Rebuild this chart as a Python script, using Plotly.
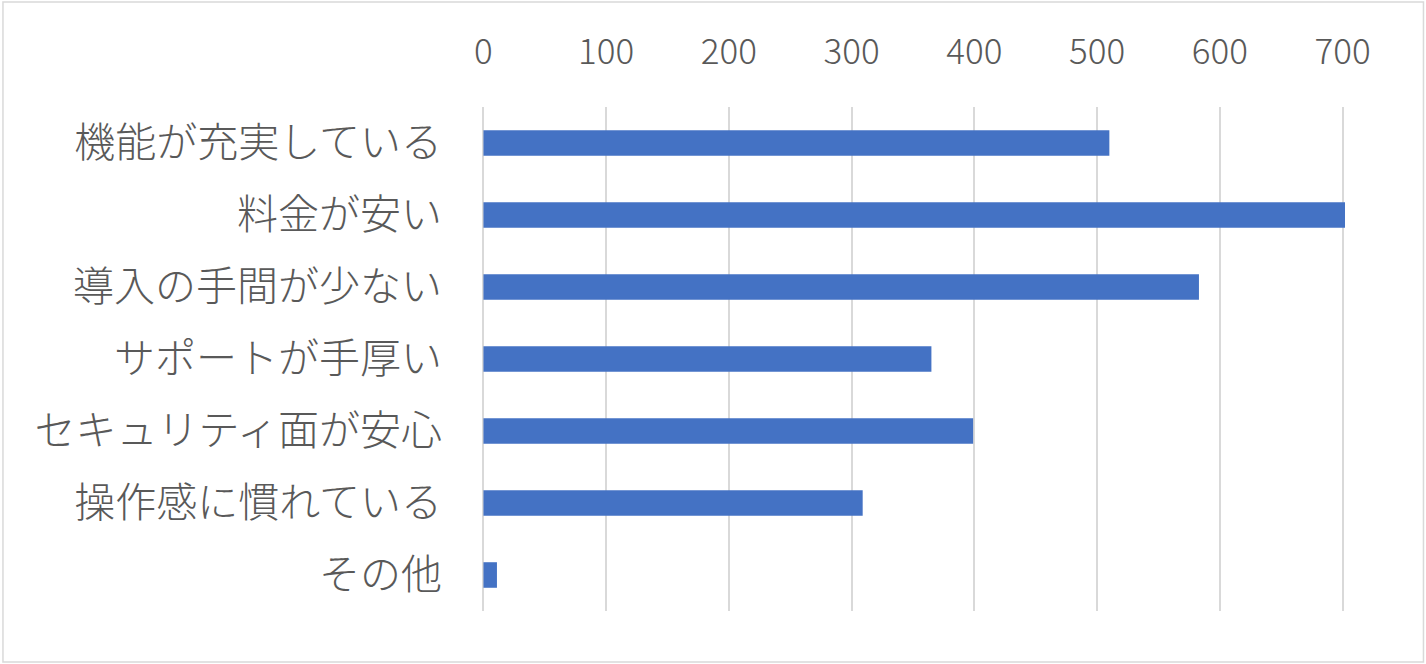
import plotly.graph_objects as go

# data
categories = ["機能が充実している", "料金が安い", "導入の手間が少ない", "サポートが手厚い",
              "セキュリティ面が安心", "操作感に慣れている", "その他"]
counts = [510, 703, 583, 365, 399, 309, 11]
tick_vals = [0, 100, 200, 300, 400, 500, 600, 700]

W, H = 1426, 664
# value axis padded by 2 units each side so the 0 and 700 grid lines show
pad = 2
unit = 860 / 700
ML, MR, MT, MB = 483 - pad * unit, 83 - pad * unit, 107, 53
pw, ph = W - ML - MR, H - MT - MB

fig = go.Figure(go.Bar(
    x=counts, y=categories, orientation="h",
    marker=dict(color="#4472c4", line=dict(width=0)),
    width=0.355,
))

fig.update_layout(
    width=W, height=H,
    margin=dict(l=ML, r=MR, t=MT, b=MB),
    paper_bgcolor="white", plot_bgcolor="white",
    font=dict(family="Noto Sans CJK JP", size=36, color="#595959", weight=300),
    showlegend=False,
    xaxis=dict(range=[-pad, 700 + pad], tickvals=tick_vals, side="top",
               showgrid=True, gridcolor="#d9d9d9", gridwidth=2,
               zeroline=False, showline=False, ticks="",
               tickfont=dict(size=35), ticklabelstandoff=35),
    yaxis=dict(autorange="reversed", ticks="", showline=False,
               tickfont=dict(size=41), ticklabelstandoff=int(round(40 - pad * unit))),
    shapes=[dict(type="rect", xref="paper", yref="paper",
                 x0=-(ML - 2) / pw, x1=1 + (MR - 2) / pw,
                 y0=-(MB - 2) / ph, y1=1 + (MT - 2) / ph,
                 line=dict(color="#d9d9d9", width=1.5))],
)

fig.write_html("out.html", config={"displayModeBar": False},
               post_script="document.body.style.margin='0';")
